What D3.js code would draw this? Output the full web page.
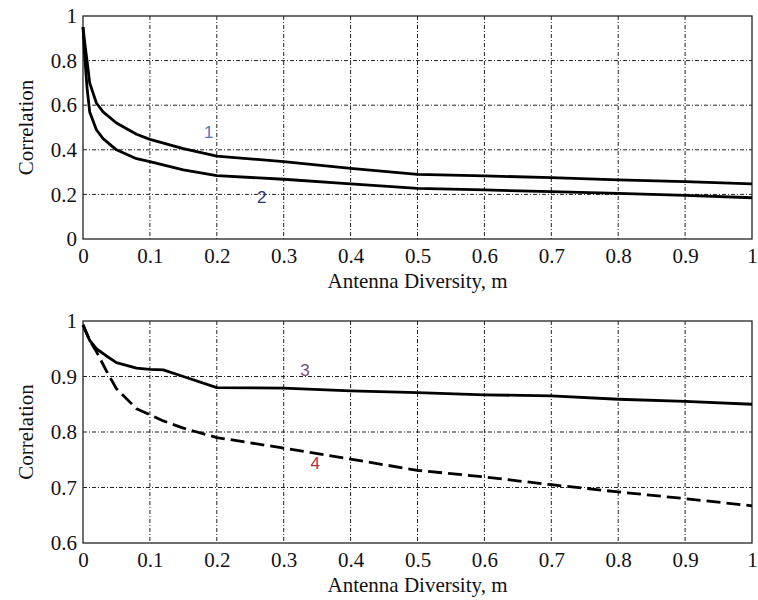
<!DOCTYPE html>
<html>
<head>
<meta charset="utf-8">
<script src="https://cdn.jsdelivr.net/npm/d3@7"></script>
<style>
  body { margin: 0; background: #fff; }
  svg text { font-family: "Liberation Serif", Tinos, "Times New Roman", "Nimbus Roman", "DejaVu Serif", serif; }
</style>
</head>
<body>
<svg id="chart" width="758" height="600"></svg>
<script>
// top panel
const topX = [0, 0.003, 0.006, 0.01, 0.02, 0.03, 0.05, 0.08, 0.1, 0.15, 0.2, 0.3, 0.4, 0.5, 0.6, 0.7, 0.8, 0.9, 1];
const curve1 = [0.95, 0.87, 0.8, 0.7, 0.61, 0.57, 0.52, 0.47, 0.447, 0.405, 0.372, 0.347, 0.317, 0.29, 0.283, 0.275, 0.265, 0.257, 0.247];
const curve2 = [0.95, 0.8, 0.68, 0.57, 0.49, 0.45, 0.4, 0.36, 0.347, 0.31, 0.284, 0.268, 0.247, 0.227, 0.22, 0.212, 0.205, 0.196, 0.185];
const topYTicks = [0, 0.2, 0.4, 0.6, 0.8, 1];

// bottom panel
const bottomX = [0, 0.01, 0.02, 0.035, 0.05, 0.08, 0.1, 0.12, 0.15, 0.2, 0.3, 0.4, 0.5, 0.6, 0.7, 0.8, 0.9, 1];
const curve3 = [0.993, 0.965, 0.95, 0.937, 0.925, 0.915, 0.913, 0.912, 0.9, 0.88, 0.879, 0.874, 0.871, 0.867, 0.865, 0.859, 0.855, 0.85];
const curve4 = [0.993, 0.965, 0.945, 0.91, 0.878, 0.842, 0.831, 0.82, 0.807, 0.79, 0.771, 0.751, 0.731, 0.719, 0.705, 0.692, 0.68, 0.667];
const bottomYTicks = [0.6, 0.7, 0.8, 0.9, 1];

const xTicks = [0, 0.1, 0.2, 0.3, 0.4, 0.5, 0.6, 0.7, 0.8, 0.9, 1];
const xTitle = "Antenna Diversity, m";
const yTitle = "Correlation";

const SVG = d3.select("#chart");
const LEFT = 83, RIGHT = 752;
const FONT = 21;
const SERIF = '"Liberation Serif", Tinos, "Times New Roman", "Nimbus Roman", "DejaVu Serif", serif';

const drawPanel = (top, bottom, yDomain, yTicks, xs, series) => {
  const x = d3.scaleLinear().domain([0, 1]).range([LEFT, RIGHT]);
  const y = d3.scaleLinear().domain(yDomain).range([bottom, top]);
  const g = SVG.append("g");

  // grid
  g.selectAll(".vgrid")
    .data(xTicks.slice(1, -1))
    .join("line")
    .attr("x1", (d) => x(d)).attr("x2", (d) => x(d))
    .attr("y1", top).attr("y2", bottom)
    .attr("stroke", "#222").attr("stroke-width", 1)
    .attr("stroke-dasharray", "4,2,1,2");
  g.selectAll(".hgrid")
    .data(yTicks.slice(1, -1))
    .join("line")
    .attr("x1", LEFT).attr("x2", RIGHT)
    .attr("y1", (d) => y(d)).attr("y2", (d) => y(d))
    .attr("stroke", "#222").attr("stroke-width", 1)
    .attr("stroke-dasharray", "4,2,1,2");

  // axes
  const xAxis = g.append("g")
    .attr("transform", "translate(0," + bottom + ")")
    .call(d3.axisBottom(x).tickValues(xTicks).tickSize(0).tickPadding(9).tickFormat(d3.format("~g")));
  const yAxis = g.append("g")
    .attr("transform", "translate(" + LEFT + ",0)")
    .call(d3.axisLeft(y).tickValues(yTicks).tickSize(0).tickPadding(6).tickFormat(d3.format("~g")));
  [xAxis, yAxis].forEach((a) => {
    a.attr("font-family", SERIF).attr("font-size", FONT);
    a.select(".domain").remove();
    a.selectAll("text").attr("fill", "#111");
  });

  // frame
  g.append("rect")
    .attr("x", LEFT).attr("y", top)
    .attr("width", RIGHT - LEFT).attr("height", bottom - top)
    .attr("fill", "none").attr("stroke", "#222").attr("stroke-width", 1.3);

  // curves
  series.forEach((s) => {
    g.append("path")
      .datum(s.values)
      .attr("d", d3.line().x((d, i) => x(xs[i])).y((d) => y(d)))
      .attr("fill", "none")
      .attr("stroke", "#000")
      .attr("stroke-width", 2.8)
      .attr("stroke-linejoin", "round")
      .attr("stroke-dasharray", s.dash || null);
    g.append("text")
      .attr("x", x(s.lx)).attr("y", y(s.ly))
      .attr("text-anchor", "middle")
      .attr("dominant-baseline", "middle")
      .style("font-family", '"Liberation Sans Narrow", "Liberation Sans", sans-serif')
      .style("font-size", "17px")
      .attr("fill", s.color)
      .text(s.name);
  });

  // titles
  g.append("text")
    .attr("x", (LEFT + RIGHT) / 2).attr("y", bottom + 49)
    .attr("text-anchor", "middle")
    .style("font-size", FONT + "px")
    .attr("fill", "#111")
    .text(xTitle);
  g.append("text")
    .attr("transform", "translate(33," + (top + bottom) / 2 + ") rotate(-90)")
    .attr("text-anchor", "middle")
    .style("font-size", FONT + "px")
    .attr("fill", "#111")
    .text(yTitle);
};

drawPanel(16, 239, [0, 1], topYTicks, topX, [
  { values: curve1, name: "1", lx: 0.188, ly: 0.475, color: "#5a78b0" },
  { values: curve2, name: "2", lx: 0.267, ly: 0.18, color: "#2c3570" },
]);
drawPanel(321, 543, [0.6, 1], bottomYTicks, bottomX, [
  { values: curve3, name: "3", lx: 0.332, ly: 0.909, color: "#7a4a7a" },
  { values: curve4, name: "4", lx: 0.347, ly: 0.742, color: "#b03040", dash: "14,6" },
]);
</script>
</body>
</html>
